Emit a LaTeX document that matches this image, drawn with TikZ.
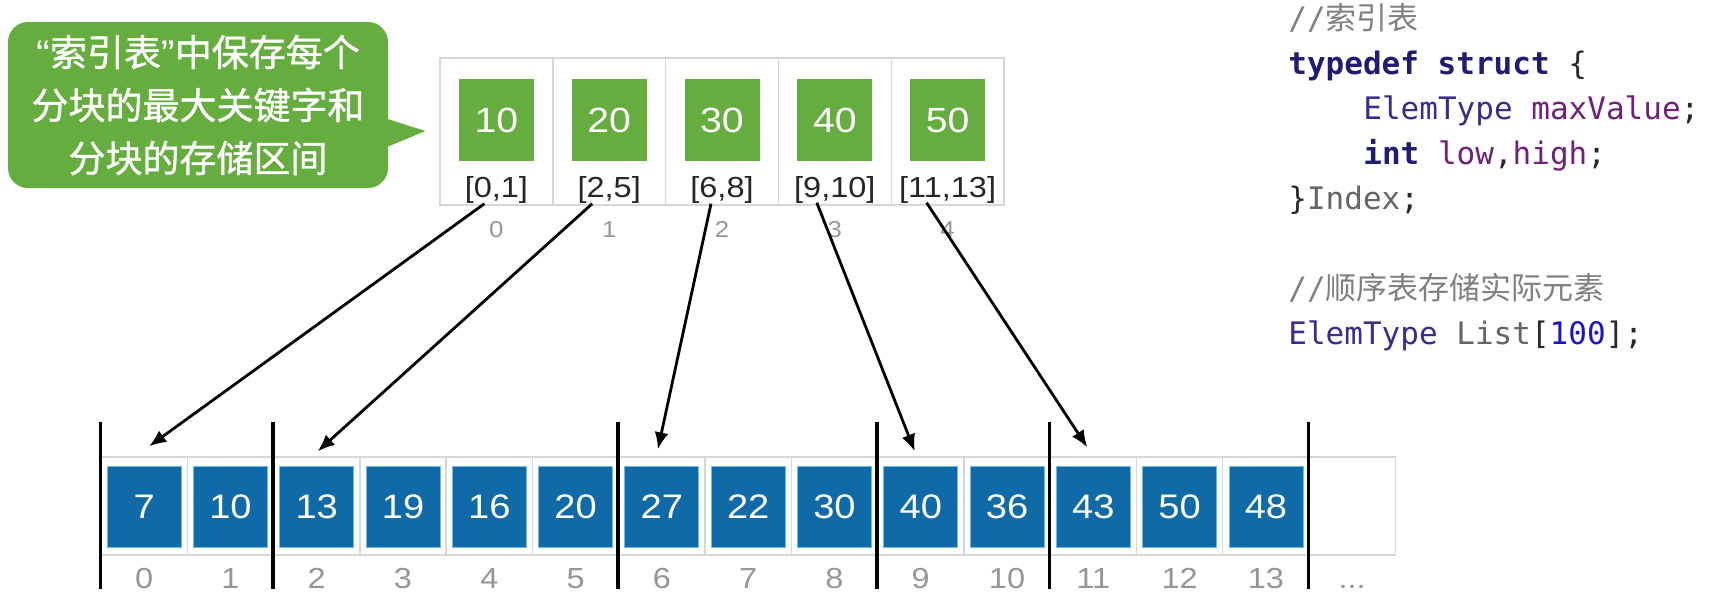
\documentclass[tikz,border=0pt]{standalone}
\usepackage{fontspec}
\setmainfont{Liberation Sans}[FakeStretch=1.12]
\newfontfamily\cjk{Noto Sans CJK SC}
\newfontfamily\cjkb{Noto Sans CJK SC}[FakeBold=1]
\newfontfamily\code{DejaVu Sans Mono}
\usetikzlibrary{calc,arrows.meta}
\definecolor{gr}{RGB}{101,173,63}
\definecolor{bl}{RGB}{16,106,168}
\definecolor{blb}{RGB}{110,185,235}
\definecolor{frm}{RGB}{215,215,215}
\definecolor{idx}{RGB}{150,150,150}
\definecolor{cmt}{RGB}{128,128,128}
\definecolor{kw}{RGB}{32,28,118}
\definecolor{typ}{RGB}{58,44,140}
\definecolor{var}{RGB}{112,32,122}
\definecolor{ident}{RGB}{100,100,100}
\definecolor{num}{RGB}{28,20,205}
\definecolor{pun}{RGB}{40,40,40}
\begin{document}
\begin{tikzpicture}[x=0.5pt,y=-0.5pt,
  tcell/.style={draw=frm,line width=0.7pt,minimum width=56.4pt,minimum height=73.5pt,inner sep=0pt},
  gsq/.style={fill=gr,minimum width=37.5pt,minimum height=41pt,inner sep=0pt,text=white,font=\fontsize{17.5pt}{19pt}\selectfont},
  rlab/.style={anchor=base,inner sep=0pt,font=\fontsize{14.5pt}{16pt}\selectfont,text=black!85},
  tidx/.style={anchor=base,inner sep=0pt,font=\fontsize{11.5pt}{14pt}\selectfont,text=idx},
  bcell/.style={draw=frm,line width=0.7pt,minimum width=43.15pt,minimum height=49pt,inner sep=0pt},
  bsq/.style={fill=bl,draw=blb,line width=0.4pt,minimum width=37pt,minimum height=40.5pt,inner sep=0pt,text=white,font=\fontsize{17pt}{19pt}\selectfont},
  bidx/.style={anchor=base,inner sep=0pt,font=\fontsize{14.5pt}{16pt}\selectfont,text=idx},
  bar/.style={line width=1.7pt,black},
  arr/.style={line width=1.4pt,black,-{Latex[length=8.5pt,width=7pt]}},
  bubble/.style={fill=gr,rounded corners=10pt,minimum width=190pt,minimum height=83pt,inner sep=0pt,text=white,align=center,font=\cjkb\fontsize{18.5pt}{26.5pt}\selectfont},
  codeline/.style={anchor=base west,inner sep=0pt,font=\code\fontsize{15.5pt}{18pt}\selectfont}]
\useasboundingbox (0,0) rectangle (1710,612);
\fill[white] (0,0) rectangle (1710,612);

% callout
\node[bubble] (bub) at (198,105) {{\rmfamily “}索引表{\rmfamily ”}中保存每个\\分块的最大关键字和\\分块的存储区间};
\fill[gr] ($(bub.east)+(-4,13)$) -- ($(bub.east)+(37,26)$) -- ($(bub.east)+(-4,43)$) -- cycle;

% index table
\foreach \i/\v/\r in {0/10/{[0,1]},1/20/{[2,5]},2/30/{[6,8]},3/40/{[9,10]},4/50/{[11,13]}}{
  \node[tcell] (t\i) at (496.4+112.8*\i,131.5) {};
  \node[gsq] (g\i) at (496.4+112.8*\i,120) {\v};
  \node[rlab] (r\i) at (496.4+112.8*\i,197) {\r};
  \node[tidx] (ti\i) at (496.4+112.8*\i,237) {\i};
}

% list
\foreach \j in {0,...,14}{
  \node[bcell] (b\j) at (144.15+86.29*\j,506) {};
}
\foreach \j/\v in {0/7,1/10,2/13,3/19,4/16,5/20,6/27,7/22,8/30,9/40,10/36,11/43,12/50,13/48}{
  \node[bsq] (s\j) at (144.15+86.29*\j,506.5) {\v};
  \node[bidx] (bi\j) at (144.15+86.29*\j,588) {\j};
}
\node[bidx] (dots) at (b14 |- 0,588) {...};

% block separators
\foreach \j in {0,2,6,9,11,14}{
  \draw[bar] ($(b\j.north west)+(0,-34)$) -- ($(b\j.south west)+(0,33)$);
}

% arrows
\draw[arr] ($(t0.south)+(-12,-2)$) -- ($(b0.north)+(5,-10)$);
\draw[arr] ($(t1.south)+(-17,-2)$) -- ($(b2.north)+(1,-5)$);
\draw[arr] ($(t2.south)+(-11,-2)$) -- ($(b6.north)+(-4,-7)$);
\draw[arr] ($(t3.south)+(-18,-3)$) -- ($(b9.north)+(-6,-5)$);
\draw[arr] ($(t4.south)+(-21,-3)$) -- ($(b11.north)+(-6,-9)$);

% code
\node[codeline] (c1) at (1288,29) {\color{cmt}//{\cjk 索引表}};
\node[codeline] (c2) at (1288,74) {\textcolor{kw}{\bfseries typedef struct} \textcolor{pun}{\{}};
\node[codeline] (c3) at (1363,119) {\textcolor{typ}{ElemType} \textcolor{var}{maxValue}\textcolor{pun}{;}};
\node[codeline] (c4) at (1363,164) {\textcolor{kw}{\bfseries int} \textcolor{var}{low}\textcolor{pun}{,}\textcolor{var}{high}\textcolor{pun}{;}};
\node[codeline] (c5) at (1288,209) {\textcolor{pun}{\}}\textcolor{ident}{Index}\textcolor{pun}{;}};
\node[codeline] (c6) at (1288,299) {\color{cmt}//{\cjk 顺序表存储实际元素}};
\node[codeline] (c7) at (1288,344) {\textcolor{typ}{ElemType} \textcolor{ident}{List}\textcolor{pun}{[}\textcolor{num}{100}\textcolor{pun}{];}};
\end{tikzpicture}
\end{document}
